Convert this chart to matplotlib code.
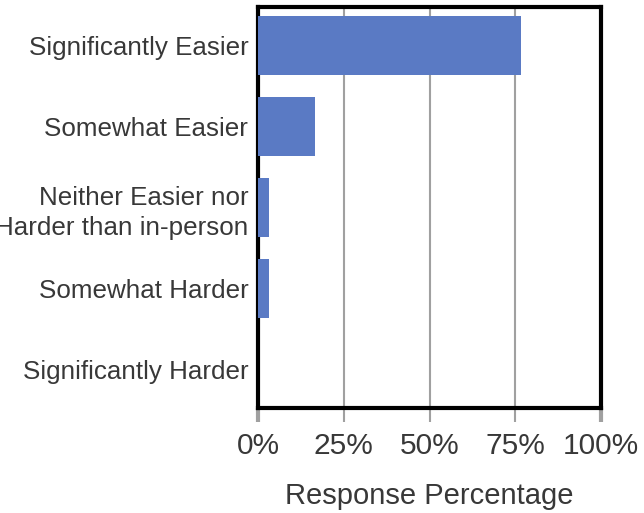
import matplotlib
matplotlib.use("Agg")
import matplotlib.pyplot as plt
from matplotlib.ticker import FuncFormatter

categories = ["Significantly Easier", "Somewhat Easier",
              "Neither Easier nor\nHarder than in-person",
              "Somewhat Harder", "Significantly Harder"]
values = [76.7, 16.5, 3.3, 3.3, 0.0]
xticks = [0, 25, 50, 75, 100]

plt.rcParams['font.family'] = ['Liberation Sans', 'DejaVu Sans']

fig = plt.figure(figsize=(6.44, 5.13), dpi=100)
ax = fig.add_axes([258/644, 1 - 408/513, (601-258)/644, (408-7)/513])

y = list(range(len(categories)))
ax.barh(y, values, height=0.73, color='#5A7AC4', zorder=3)
ax.set_ylim(4.47, -0.48)
ax.set_xlim(0, 100)
ax.set_xticks(xticks)
ax.xaxis.set_major_formatter(FuncFormatter(lambda v, p: f"{int(v)}%"))
ax.set_yticks(y)
ax.set_yticklabels(categories, fontsize=18.7, color='#383838', linespacing=1.3)
ax.tick_params(axis='y', length=0, pad=7)
ax.tick_params(axis='x', length=10, width=1.5, color='#A0A0A0', pad=7,
               labelsize=21.5, labelcolor='#383838')
for t in (ax.xaxis.get_major_ticks()[0], ax.xaxis.get_major_ticks()[-1]):
    t.tick1line.set_color('black')
    t.tick1line.set_markeredgewidth(3)
ax.grid(axis='x', color='#A0A0A0', linewidth=1.5, zorder=0)
for s in ax.spines.values():
    s.set_linewidth(3)
    s.set_color('black')
ax.set_xlabel("Response Percentage", fontsize=21, color='#383838', labelpad=16)

fig.savefig("out.png", dpi=100)
